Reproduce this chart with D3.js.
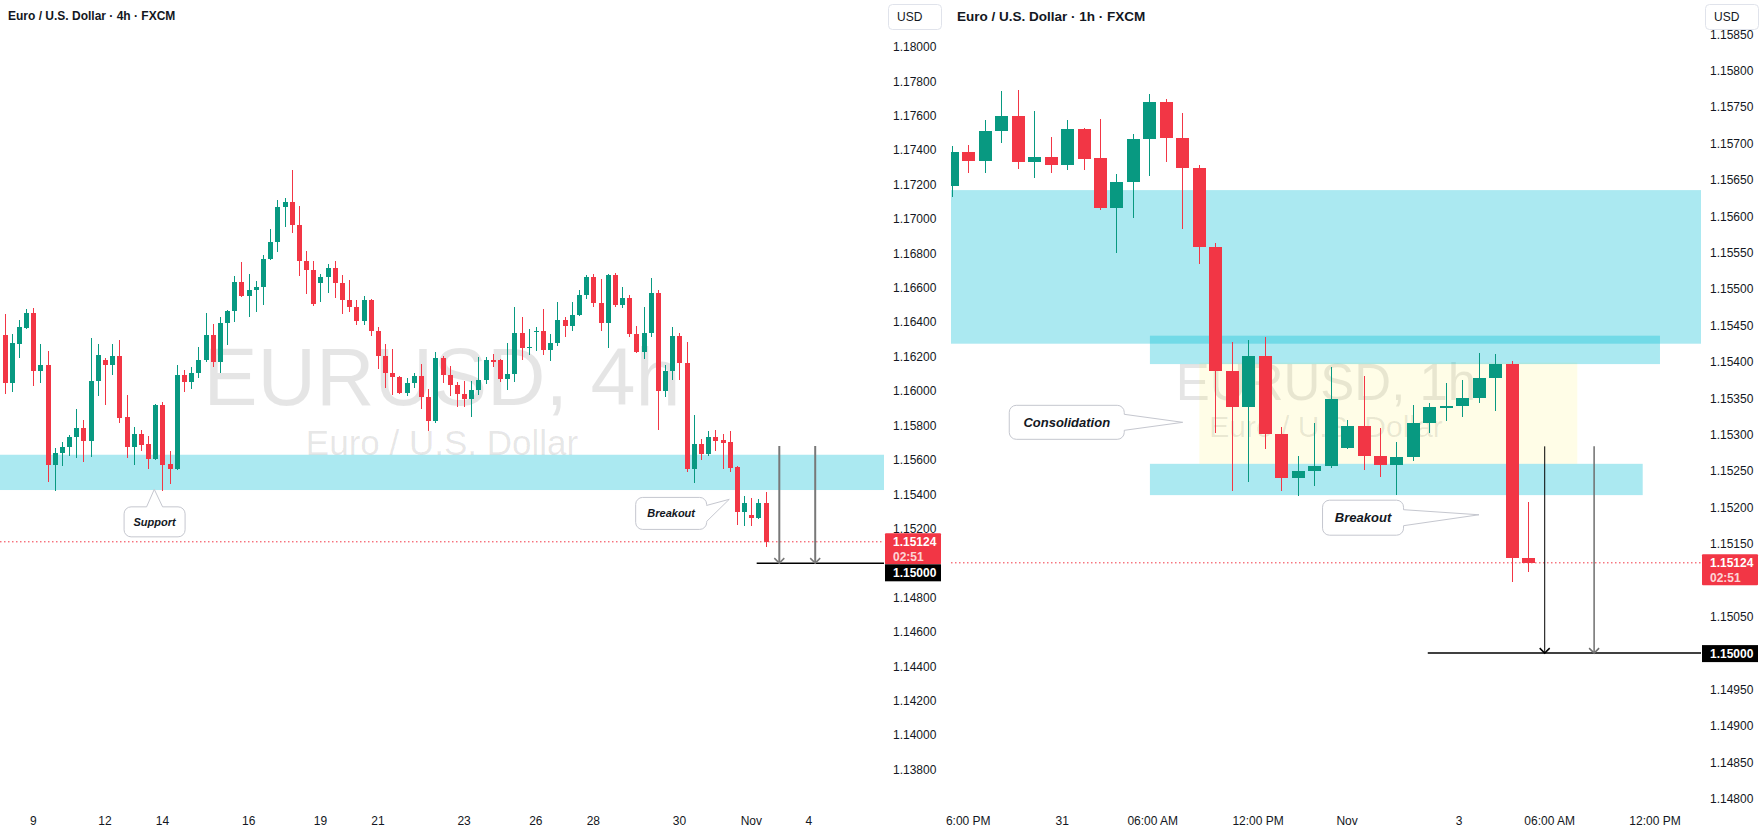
<!DOCTYPE html>
<html>
<head>
<meta charset="utf-8">
<title>EURUSD 4h / 1h</title>
<script src="https://d3js.org/d3.v7.min.js"></script>
<style>
  body { margin: 0; background: #fff; }
  svg { display: block; font-family: "Liberation Sans", Arial, sans-serif; }
</style>
</head>
<body>
<svg id="chart" width="1763" height="833"></svg>
<script>

// 4h candles, [open, high, low, close]
var candles4h = [
  [1.16326,1.16448,1.15983,1.16049],[1.16049,1.16330,1.15997,1.16280],[1.16276,1.16413,1.16194,1.16371],
  [1.16369,1.16476,1.16360,1.16456],[1.16456,1.16485,1.16030,1.16119],[1.16119,1.16274,1.16049,1.16152],
  [1.16152,1.16235,1.15474,1.15571],[1.15571,1.15668,1.15421,1.15639],[1.15639,1.15703,1.15567,1.15675],
  [1.15675,1.15743,1.15625,1.15733],[1.15733,1.15896,1.15613,1.15786],[1.15786,1.15830,1.15590,1.15712],
  [1.15712,1.16309,1.15619,1.16059],[1.16059,1.16274,1.15973,1.16210],[1.16180,1.16190,1.15921,1.16152],
  [1.16152,1.16274,1.16094,1.16204],[1.16204,1.16297,1.15816,1.15845],[1.15849,1.15977,1.15613,1.15677],
  [1.15677,1.15791,1.15572,1.15751],[1.15751,1.15774,1.15654,1.15689],[1.15693,1.15739,1.15549,1.15607],
  [1.15607,1.15923,1.15600,1.15919],[1.15919,1.15937,1.15421,1.15571],[1.15575,1.15652,1.15462,1.15547],
  [1.15547,1.16152,1.15541,1.16094],[1.16094,1.16123,1.15997,1.16055],[1.16055,1.16138,1.16012,1.16105],
  [1.16105,1.16256,1.16075,1.16181],[1.16178,1.16456,1.16170,1.16326],[1.16326,1.16390,1.16138,1.16171],
  [1.16171,1.16433,1.16107,1.16396],[1.16396,1.16471,1.16268,1.16466],[1.16466,1.16669,1.16402,1.16634],
  [1.16634,1.16750,1.16545,1.16553],[1.16553,1.16681,1.16433,1.16588],[1.16588,1.16640,1.16462,1.16605],
  [1.16605,1.16791,1.16501,1.16768],[1.16768,1.16942,1.16760,1.16867],[1.16867,1.17111,1.16810,1.17070],
  [1.17070,1.17122,1.16956,1.17099],[1.17099,1.17285,1.16917,1.16967],[1.16967,1.17076,1.16671,1.16758],
  [1.16758,1.16814,1.16566,1.16706],[1.16706,1.16756,1.16496,1.16505],[1.16630,1.16681,1.16520,1.16662],
  [1.16662,1.16739,1.16569,1.16714],[1.16714,1.16756,1.16539,1.16630],[1.16630,1.16675,1.16446,1.16530],
  [1.16530,1.16646,1.16462,1.16491],[1.16491,1.16530,1.16384,1.16409],[1.16409,1.16553,1.16384,1.16530],
  [1.16530,1.16536,1.16320,1.16351],[1.16351,1.16371,1.16129,1.16204],[1.16204,1.16272,1.16020,1.16107],
  [1.16107,1.16245,1.15977,1.16084],[1.16084,1.16090,1.15983,1.15991],[1.15991,1.16075,1.15972,1.16049],
  [1.16049,1.16104,1.16018,1.16088],[1.16088,1.16158,1.15894,1.15968],[1.15968,1.16012,1.15770,1.15828],
  [1.15828,1.16227,1.15816,1.16191],[1.16191,1.16204,1.16049,1.16095],[1.16095,1.16146,1.15972,1.16036],
  [1.16036,1.16055,1.15909,1.15985],[1.15985,1.16059,1.15909,1.15956],[1.15956,1.16059,1.15851,1.16006],
  [1.16006,1.16197,1.15977,1.16065],[1.16065,1.16197,1.16041,1.16181],[1.16181,1.16216,1.16142,1.16171],
  [1.16178,1.16187,1.16055,1.16070],[1.16070,1.16281,1.16006,1.16099],[1.16099,1.16489,1.16055,1.16338],
  [1.16338,1.16431,1.16181,1.16252],[1.16252,1.16361,1.16212,1.16258],[1.16344,1.16373,1.16231,1.16349],
  [1.16349,1.16477,1.16212,1.16239],[1.16239,1.16332,1.16177,1.16280],[1.16280,1.16518,1.16264,1.16413],
  [1.16413,1.16431,1.16315,1.16380],[1.16380,1.16518,1.16349,1.16442],[1.16442,1.16588,1.16435,1.16559],
  [1.16559,1.16675,1.16537,1.16663],[1.16663,1.16681,1.16491,1.16514],[1.16514,1.16652,1.16349,1.16398],
  [1.16398,1.16681,1.16252,1.16675],[1.16675,1.16687,1.16491,1.16502],[1.16502,1.16605,1.16485,1.16541],
  [1.16541,1.16559,1.16316,1.16334],[1.16334,1.16378,1.16224,1.16229],[1.16229,1.16489,1.16188,1.16338],
  [1.16338,1.16657,1.16316,1.16570],[1.16570,1.16588,1.15776,1.16002],[1.16002,1.16152,1.15968,1.16117],
  [1.16117,1.16373,1.16066,1.16320],[1.16320,1.16338,1.16066,1.16165],[1.16165,1.16285,1.15532,1.15549],
  [1.15549,1.15861,1.15468,1.15693],[1.15693,1.15722,1.15600,1.15635],[1.15635,1.15768,1.15623,1.15733],
  [1.15733,1.15774,1.15652,1.15710],[1.15716,1.15751,1.15547,1.15698],[1.15704,1.15768,1.15530,1.15555],
  [1.15559,1.15565,1.15222,1.15297],[1.15297,1.15390,1.15216,1.15350],[1.15280,1.15379,1.15216,1.15263],
  [1.15263,1.15373,1.15258,1.15350],[1.15350,1.15414,1.15094,1.15124]
];
var days4h = ["9", "12", "14", "16", "19", "21", "23", "26", "28", "30", "Nov", "4"];
var dayBars4h = [4, 14, 22, 34, 44, 52, 64, 74, 82, 94, 104, 112];

// 1h candles, [open, high, low, close]
var candles1h = [
  [1.15642,1.15697,1.15627,1.15688],[1.15688,1.15698,1.15659,1.15676],[1.15676,1.15732,1.15659,1.15717],
  [1.15717,1.15772,1.15701,1.15738],[1.15738,1.15773,1.15665,1.15675],[1.15675,1.15745,1.15652,1.15681],
  [1.15681,1.15709,1.15660,1.15671],[1.15671,1.15732,1.15663,1.15720],[1.15720,1.15721,1.15663,1.15679],
  [1.15680,1.15734,1.15608,1.15612],[1.15612,1.15658,1.15549,1.15647],[1.15647,1.15713,1.15598,1.15706],
  [1.15706,1.15768,1.15656,1.15757],[1.15757,1.15761,1.15674,1.15708],[1.15708,1.15742,1.15582,1.15667],
  [1.15667,1.15670,1.15534,1.15558],[1.15558,1.15563,1.15303,1.15388],[1.15388,1.15427,1.15222,1.15338],
  [1.15338,1.15430,1.15235,1.15408],[1.15408,1.15434,1.15281,1.15301],[1.15301,1.15311,1.15222,1.15241],
  [1.15241,1.15271,1.15216,1.15250],[1.15250,1.15316,1.15230,1.15257],[1.15257,1.15393,1.15254,1.15349],
  [1.15282,1.15320,1.15280,1.15312],[1.15312,1.15381,1.15251,1.15271],[1.15271,1.15309,1.15242,1.15259],
  [1.15259,1.15290,1.15217,1.15269],[1.15269,1.15341,1.15264,1.15316],[1.15316,1.15343,1.15303,1.15338],
  [1.15337,1.15371,1.15319,1.15340],[1.15340,1.15375,1.15324,1.15350],[1.15350,1.15412,1.15343,1.15378],
  [1.15378,1.15411,1.15333,1.15397],[1.15397,1.15401,1.15097,1.15131],[1.15131,1.15208,1.15112,1.15124]
];
var hours1h = ["6:00 PM", "31", "06:00 AM", "12:00 PM", "Nov", "3", "06:00 AM", "12:00 PM"];
var hourBars1h = [1, 6.7, 12.2, 18.6, 24, 30.8, 36.3, 42.7];

var lastPrice = 1.15124;
var targetPrice = 1.15000;
var countdown = "02:51";

// drawings: zones [fromBar, toBar, low, high], callouts, arrows
var zones4h = [[-5, 200, 1.15425, 1.15630]];
var zones1h = [[-5, 100, 1.15425, 1.15636], [12.03, 43.0, 1.15397, 1.15436], [12.03, 41.95, 1.15217, 1.15260]];
var boxes1h = [[15.03, 37.98, 1.15260, 1.15399]];
var notes4h = [
  { text: "Support", tip: [20.86, 1.15429], at: [20.9, 1.15240], w: 61, h: 30, side: "top" },
  { text: "Breakout", tip: [100.93, 1.15371], at: [92.84, 1.15289], w: 71, h: 32, side: "right" }
];
var notes1h = [
  { text: "Consolidation", tip: [14.02, 1.15317], at: [6.98, 1.15317], w: 115, h: 34, side: "right" },
  { text: "Breakout", tip: [32.01, 1.15190], at: [24.97, 1.15186], w: 81, h: 35, side: "right" }
];
var arrows4h = [
  { bar: 107.9, from: 1.15681, color: "#787878", width: 2 },
  { bar: 112.9, from: 1.15681, color: "#787878", width: 2 }
];
var arrows1h = [
  { bar: 36, from: 1.15284, color: "#000000", width: 1 },
  { bar: 39, from: 1.15284, color: "#6e6e6e", width: 1.5 }
];

var green = "#089981";
var red = "#f23645";
var fmt = d3.format(".5f");
var svg = d3.select("#chart");

var panels = [
  {
    id: "p4h", title: "Euro / U.S. Dollar · 4h · FXCM", titleX: 8, titleSize: 12,
    wm: ["EURUSD, 4h", "Euro / U.S. Dollar"], wmSize: [81, 35], wmY: [405, 455],
    candles: candles4h, left: 0, right: 884, xDomain: [-0.627, 122.48],
    yDomain: [1.138, 1.18], yRange: [769.6, 47], bodyW: 5,
    ticks: d3.range(22).map(function(i) { return 1.138 + i * 0.002; }),
    timeLabels: days4h, timeBars: dayBars4h,
    zones: zones4h, boxes: [], notes: notes4h, arrows: arrows4h, noteFont: 11,
    targetFrom: 104.75, pushTarget: true
  },
  {
    id: "p1h", title: "Euro / U.S. Dollar · 1h · FXCM", titleX: 957, titleSize: 13.5,
    wm: ["EURUSD, 1h", "Euro / U.S. Dollar"], wmSize: [51, 30], wmY: [400, 437],
    candles: candles1h, left: 951, right: 1701, xDomain: [-0.0486, 45.49],
    yDomain: [1.148, 1.158], yRange: [798.7, 70.7], bodyW: 13,
    ticks: d3.range(22).map(function(i) { return 1.148 + i * 0.0005; }),
    timeLabels: hours1h, timeBars: hourBars1h,
    zones: zones1h, boxes: boxes1h, notes: notes1h, arrows: arrows1h, noteFont: 13,
    targetFrom: 28.9, pushTarget: false
  }
];

panels.forEach(drawPanel);

function drawPanel(p) {
  var x = d3.scaleLinear().domain(p.xDomain).range([p.left, p.right]);
  var y = d3.scaleLinear().domain(p.yDomain).range(p.yRange);

  svg.append("clipPath").attr("id", "clip-" + p.id)
    .append("rect")
    .attr("x", p.left).attr("y", 0)
    .attr("width", p.right - p.left).attr("height", 800);

  var g = svg.append("g").attr("clip-path", "url(#clip-" + p.id + ")");
  var cx = (p.left + p.right) / 2;

  // watermark
  p.wm.forEach(function(t, i) {
    g.append("text")
      .attr("x", cx).attr("y", p.wmY[i])
      .attr("text-anchor", "middle")
      .attr("font-size", p.wmSize[i])
      .attr("fill", "rgba(0,0,0,0.1)")
      .text(t);
  });

  // yellow box
  g.selectAll(".box").data(p.boxes).enter().append("rect")
    .attr("x", function(d) { return x(d[0]); })
    .attr("width", function(d) { return x(d[1]) - x(d[0]); })
    .attr("y", function(d) { return y(d[3]); })
    .attr("height", function(d) { return y(d[2]) - y(d[3]); })
    .attr("fill", "rgba(255,235,59,0.12)");

  // zones
  g.selectAll(".zone").data(p.zones).enter().append("rect")
    .attr("x", function(d) { return x(d[0]); })
    .attr("width", function(d) { return x(d[1]) - x(d[0]); })
    .attr("y", function(d) { return y(d[3]); })
    .attr("height", function(d) { return y(d[2]) - y(d[3]); })
    .attr("fill", "rgba(0,188,212,0.33)");

  // candles
  var c = g.selectAll(".candle").data(p.candles).enter().append("g")
    .attr("shape-rendering", "crispEdges");
  c.append("line")
    .attr("x1", function(d, i) { return Math.round(x(i)) + 0.5; })
    .attr("x2", function(d, i) { return Math.round(x(i)) + 0.5; })
    .attr("y1", function(d) { return y(d[1]); })
    .attr("y2", function(d) { return y(d[2]); })
    .attr("stroke", function(d) { return d[3] >= d[0] ? green : red; })
    .attr("stroke-width", 1);
  c.append("rect")
    .attr("x", function(d, i) { return Math.round(x(i)) + 0.5 - p.bodyW / 2; })
    .attr("width", p.bodyW)
    .attr("y", function(d) { return y(Math.max(d[0], d[3])); })
    .attr("height", function(d) { return Math.max(1, Math.abs(y(d[0]) - y(d[3]))); })
    .attr("fill", function(d) { return d[3] >= d[0] ? green : red; });

  // last price line
  g.append("line")
    .attr("x1", p.left).attr("x2", p.right)
    .attr("y1", y(lastPrice)).attr("y2", y(lastPrice))
    .attr("stroke", red).attr("stroke-width", 1)
    .attr("stroke-dasharray", "1.5,2.5");

  // target line
  g.append("line")
    .attr("x1", x(p.targetFrom)).attr("x2", p.right)
    .attr("y1", y(targetPrice)).attr("y2", y(targetPrice))
    .attr("stroke", "#000").attr("stroke-width", 1.5);

  // arrows
  p.arrows.forEach(function(a) {
    var ax = x(a.bar), y0 = y(a.from), y1 = y(targetPrice);
    g.append("line")
      .attr("x1", ax).attr("x2", ax).attr("y1", y0).attr("y2", y1)
      .attr("stroke", a.color).attr("stroke-width", a.width);
    g.append("path")
      .attr("d", "M" + (ax - 5) + "," + (y1 - 5) + "L" + ax + "," + y1 + "L" + (ax + 5) + "," + (y1 - 5))
      .attr("fill", "none").attr("stroke", a.color).attr("stroke-width", 1.5);
  });

  // callouts
  p.notes.forEach(function(n) {
    var bx = x(n.at[0]), by = y(n.at[1]);
    var tx = x(n.tip[0]), ty = y(n.tip[1]);
    var l = bx - n.w / 2, t = by - n.h / 2;
    g.append("rect")
      .attr("x", l).attr("y", t).attr("width", n.w).attr("height", n.h)
      .attr("rx", 7)
      .attr("fill", "#fff").attr("stroke", "#c5c7cf").attr("stroke-width", 1);
    var a1, a2, i1, i2;
    if (n.side === "top") {
      a1 = [bx - 8, t]; a2 = [bx + 8, t]; i1 = [bx - 8, t + 2]; i2 = [bx + 8, t + 2];
    } else {
      a1 = [l + n.w, by - 8]; a2 = [l + n.w, by + 8]; i1 = [l + n.w - 2, by - 8]; i2 = [l + n.w - 2, by + 8];
    }
    g.append("path")
      .attr("d", "M" + i1 + "L" + a1 + "L" + [tx, ty] + "L" + a2 + "L" + i2 + "Z")
      .attr("fill", "#fff");
    g.append("path")
      .attr("d", "M" + a1 + "L" + [tx, ty] + "L" + a2)
      .attr("fill", "none").attr("stroke", "#c5c7cf").attr("stroke-width", 1);
    g.append("text")
      .attr("x", bx).attr("y", by).attr("dy", "0.35em")
      .attr("text-anchor", "middle")
      .attr("font-size", p.noteFont).attr("font-weight", "bold").attr("font-style", "italic")
      .attr("fill", "#131722")
      .text(n.text);
  });

  // label boxes on the price scale
  var ly = y(lastPrice) - 8.5;
  var ty = y(targetPrice) - 8;
  if (p.pushTarget) ty = Math.max(ty, ly + 31);
  var covered = [[ly, ly + 31], [ty, ty + 17]];

  // price scale labels (skip the ones hidden by the label boxes)
  var ticks = p.ticks.filter(function(d) {
    var ty0 = y(d);
    return !covered.some(function(r) { return ty0 > r[0] - 3 && ty0 < r[1] + 3; });
  });
  var ax = svg.append("g");
  ax.selectAll(".tick").data(ticks).enter().append("text")
    .attr("x", p.right + 9).attr("y", function(d) { return y(d); }).attr("dy", "0.35em")
    .attr("font-size", 12).attr("fill", "#131722")
    .text(function(d) { return fmt(d); });

  // last price label
  ax.append("rect").attr("x", p.right + 1).attr("y", ly).attr("width", 56).attr("height", 31)
    .attr("rx", 1).attr("fill", red);
  ax.append("text").attr("x", p.right + 9).attr("y", ly + 8.5).attr("dy", "0.35em")
    .attr("font-size", 12).attr("font-weight", "bold").attr("fill", "#fff").text(fmt(lastPrice));
  ax.append("text").attr("x", p.right + 9).attr("y", ly + 23).attr("dy", "0.35em")
    .attr("font-size", 12).attr("font-weight", "bold").attr("fill", "rgba(255,255,255,0.8)").text(countdown);

  // target label
  ax.append("rect").attr("x", p.right + 1).attr("y", ty).attr("width", 56).attr("height", 17)
    .attr("fill", "#000");
  ax.append("text").attr("x", p.right + 9).attr("y", ty + 8.5).attr("dy", "0.35em")
    .attr("font-size", 12).attr("font-weight", "bold").attr("fill", "#fff").text(fmt(targetPrice));

  // currency button
  ax.append("rect").attr("x", p.right + 4.5).attr("y", 4.5).attr("width", 53).attr("height", 25)
    .attr("rx", 4).attr("fill", "#fff").attr("stroke", "#e0e3eb");
  ax.append("text").attr("x", p.right + 13).attr("y", 17).attr("dy", "0.35em")
    .attr("font-size", 12).attr("fill", "#131722").text("USD");

  // title
  svg.append("text").attr("x", p.titleX).attr("y", 16).attr("dy", "0.35em")
    .attr("font-size", p.titleSize).attr("font-weight", "bold").attr("fill", "#131722")
    .text(p.title);

  // time scale labels
  svg.append("g").selectAll("text").data(p.timeLabels).enter().append("text")
    .attr("x", function(d, i) { return x(p.timeBars[i]); })
    .attr("y", 821).attr("dy", "0.35em")
    .attr("text-anchor", "middle")
    .attr("font-size", 12).attr("fill", "#131722")
    .text(function(d) { return d; });
}

</script>
</body>
</html>
